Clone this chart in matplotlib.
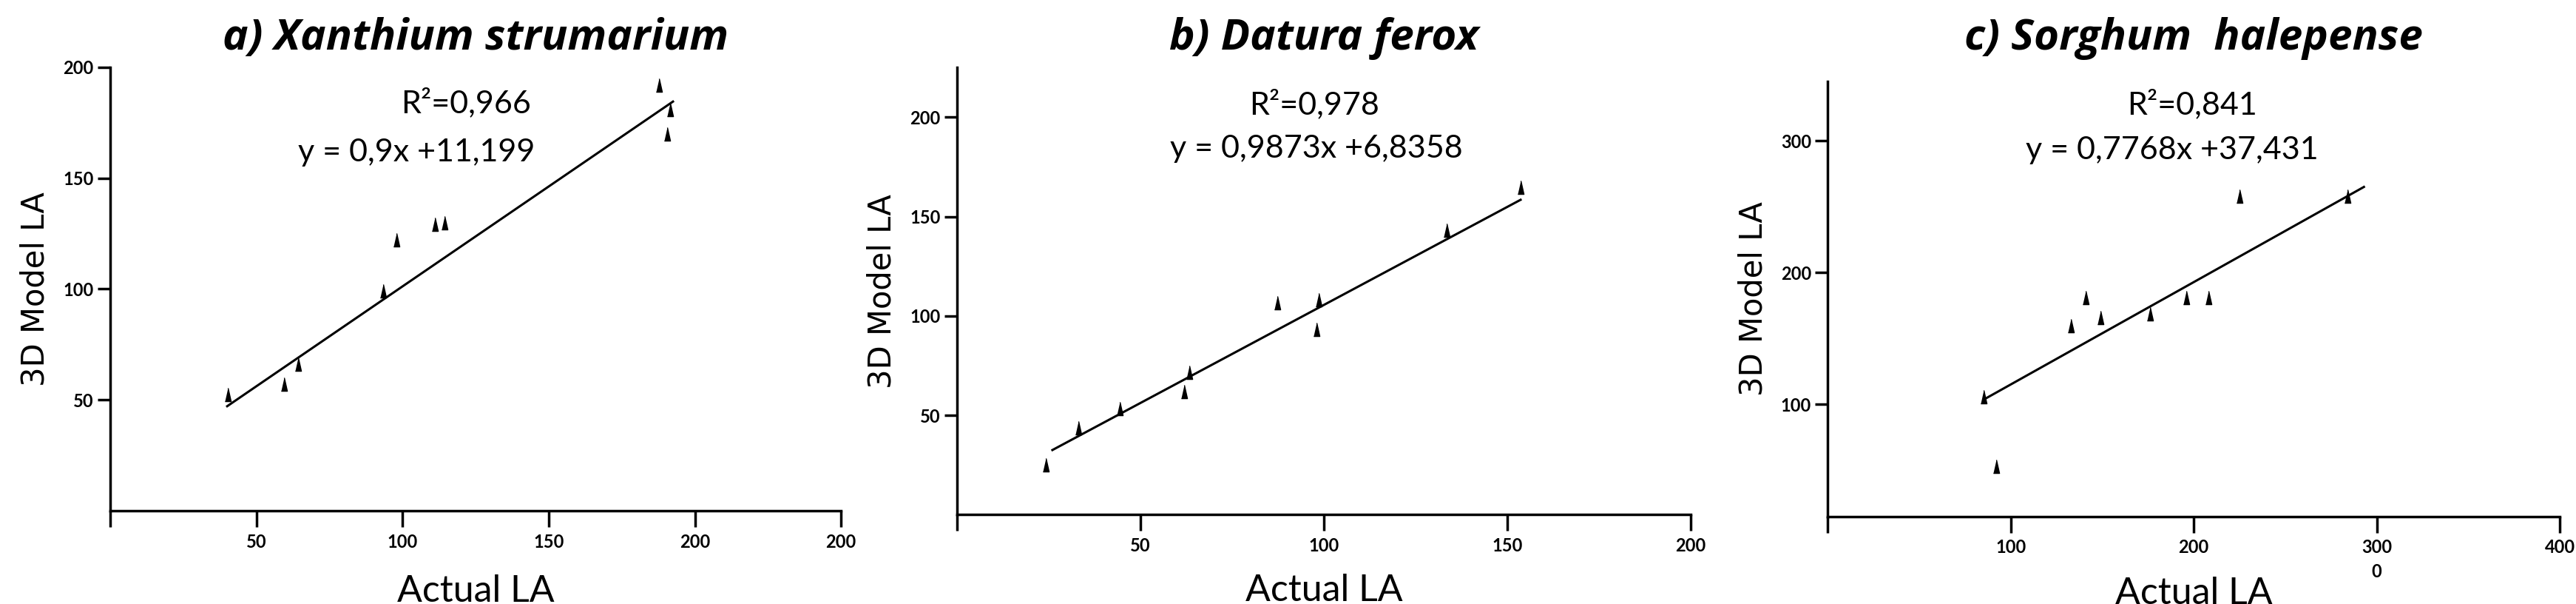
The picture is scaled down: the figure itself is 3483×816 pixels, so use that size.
import matplotlib
matplotlib.use("Agg")
import matplotlib.pyplot as plt
import numpy as np

# a) Xanthium strumarium
xa = [40.2, 59.4, 64.2, 93.4, 98, 111, 114.3, 187.7, 191.5, 190.6]
ya = [52.6, 57.3, 66, 99, 122, 129, 129.7, 192, 181, 170]
# b) Datura ferox
xb = [24.2, 33.1, 44.4, 61.8, 63.3, 87.2, 98, 98.5, 133.4, 153.6]
yb = [25, 43.5, 53.3, 61.8, 71.7, 106.5, 93.3, 108, 143, 164.6]
# c) Sorghum halepense
xc = [85, 92, 133, 141, 149, 176, 196, 208, 225, 284]
yc = [106, 53, 160, 181, 166, 168.5, 181, 181, 258, 258]

titles = ["a) Xanthium strumarium", "b) Datura ferox", "c) Sorghum  halepense"]
r2_text = ["R²=0,966", "R²=0,978", "R²=0,841"]
eq_text = ["y = 0,9x +11,199", "y = 0,9873x +6,8358", "y = 0,7768x +37,431"]
slopes = [0.9, 0.9873, 0.7768]
intercepts = [11.199, 6.8358, 37.431]
line_x = [(40, 192.5), (26, 153.6), (86, 293)]

xticks = [[0, 50, 100, 150, 200, 250], [0, 50, 100, 150, 200], [0, 100, 200, 300, 400]]
xticklabels = [["", "50", "100", "150", "200", "200"], ["", "50", "100", "150", "200"],
               ["", "100", "200", "300\n0", "400"]]
yticks = [[50, 100, 150, 200], [50, 100, 150, 200], [100, 200, 300]]
xlims = [(0, 250), (4, 197), (2, 400)]
ylims = [(0, 200), (0, 225), (15, 345)]
text_pos = [((121.7, 184), (104.7, 161.5)), ((97.3, 206.5), (98, 184)), ((199, 328), (188, 292.6))]

rects = [[0.0428, 0.154, 0.2837, 0.735], [0.3715, 0.148, 0.2849, 0.740], [0.7095, 0.145, 0.2842, 0.720]]
xlabel_y = [-0.142, -0.132, -0.139]
title_y = 0.936

tri = [(-0.45, -1), (0.45, -1), (0, 1)]
narrow = ["Lato", "DejaVu Sans"]

fig = plt.figure(figsize=(34.83, 8.16), dpi=100)
data = [(xa, ya), (xb, yb), (xc, yc)]
for i in range(3):
    ax = fig.add_axes(rects[i])
    x, y = data[i]
    ax.scatter(x, y, marker=tri, s=170, color="black", zorder=3)
    lx = np.array(line_x[i])
    ax.plot(lx, slopes[i] * lx + intercepts[i], color="black", lw=2.2)
    ax.set_xlim(*xlims[i])
    ax.set_ylim(*ylims[i])
    ax.set_xticks(xticks[i])
    ax.set_xticklabels(xticklabels[i], fontsize=17, fontweight="bold", family=narrow, linespacing=1.5)
    ax.set_yticks(yticks[i])
    ax.set_yticklabels([str(t) for t in yticks[i]], fontsize=17, fontweight="bold", family=narrow)
    ax.tick_params(axis="x", length=16, width=2.5, pad=6)
    ax.tick_params(axis="y", length=12, width=2.5, pad=4)
    for s in ["top", "right"]:
        ax.spines[s].set_visible(False)
    for s in ["left", "bottom"]:
        ax.spines[s].set_linewidth(2.5)
    ax.set_xlabel("Actual LA", fontsize=36, family=narrow)
    ax.xaxis.set_label_coords(0.5, xlabel_y[i], transform=ax.transAxes)
    ax.set_ylabel("3D Model LA", fontsize=30, family="DejaVu Sans", labelpad=12)
    (rx, ry), (ex, ey) = text_pos[i]
    ax.text(rx, ry, r2_text[i], fontsize=31, family=narrow, ha="center", va="center")
    ax.text(ex, ey, eq_text[i], fontsize=31, family=narrow, ha="center", va="center")
    r = rects[i]
    fig.text(r[0] + r[2] * 0.5, title_y, titles[i], fontsize=42, fontweight="bold",
             fontstyle="italic", family=["Open Sans", "DejaVu Sans"], ha="center", va="center")

plt.savefig("out.png", dpi=100)
